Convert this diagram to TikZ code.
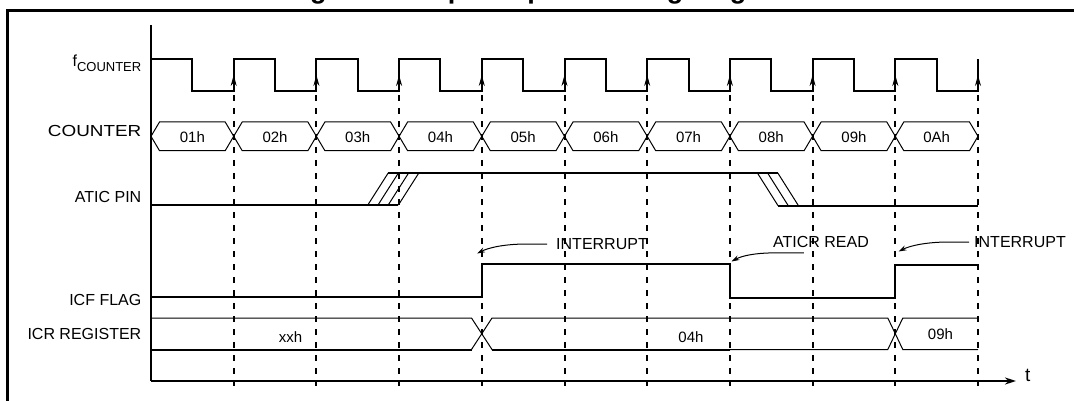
\documentclass[tikz,border=0pt]{standalone}
\usepackage{fontspec}
\setmainfont{Liberation Sans}
\usetikzlibrary{arrows.meta}

\begin{document}
\begin{tikzpicture}[
    x=1pt, y=-1pt,
    wave/.style={line width=2pt, line join=miter},
    thin_wave/.style={line width=1.1pt},
    bus/.style={line width=1pt},
    guide/.style={line width=2pt, dash pattern=on 6pt off 7pt},
    edge_arrow/.style={-{Stealth[length=11pt,width=6pt]}, line width=1pt},
    callout/.style={-{Stealth[length=8pt,width=5pt]}, line width=1pt},
    sig_label/.style={anchor=base east, inner sep=0pt, font=\fontsize{16}{19}\selectfont},
    bus_label/.style={inner sep=0pt, font=\fontsize{15}{18}\selectfont},
    note/.style={inner sep=0pt, font=\fontsize{16}{19}\selectfont}
]
    \useasboundingbox (0,0) rectangle (1074,401);
    \clip (0,0) rectangle (1074,401);
    \fill[white] (0,0) rectangle (1074,401);

    % Title (only its lower edge falls inside the page)
    \node[anchor=base, inner sep=0pt, font=\fontsize{27}{32}\selectfont\bfseries] (title) at (541,-1) {Figure 39. Input capture timing diagram};

    % Frame and axes
    \draw[line width=2.5pt] (7.6,401) -- (7.6,10.3) -- (1074,10.3);
    \draw[line width=2pt] (151,25) -- (151,381);
    \draw[line width=2pt, -{Stealth[length=11pt,width=7pt]}] (151,381) -- (1016,381);
    \node[anchor=base west, inner sep=0pt, font=\fontsize{19}{22}\selectfont] (t) at (1025,381.5) {t};

    % Guides from each rising edge
    \foreach \k in {1,...,10}
        \draw[guide] ({151+82.7*\k},95) -- ({151+82.7*\k},386);

    % fCOUNTER
    \node[sig_label] (fclk) at (141.5,67) {f\raisebox{-4.6pt}{\fontsize{13}{15}\selectfont COUNTER}};
    \draw[wave] (151,59) foreach \k in {0,...,9} {
        -- ({151+82.7*\k+41.35},59) -- ({151+82.7*\k+41.35},91)
        -- ({151+82.7*\k+82.7},91) -- ({151+82.7*\k+82.7},59)
    };
    \foreach \k in {1,...,10}
        \draw[edge_arrow] ({151+82.7*\k},91) -- ({151+82.7*\k},75);

    % COUNTER
    \node[sig_label] (cnt) at (141.5,137) {\scalebox{1.18}[1]{COUNTER}};
    \foreach \lbl [count=\k from 0] in {01h,02h,03h,04h,05h,06h,07h,08h,09h,0Ah} {
        \draw[bus] ({151+82.7*\k},136.3) -- ({151+82.7*\k+8.5},122) -- ({151+82.7*\k+74.2},122)
            -- ({151+82.7*\k+82.7},136.3) -- ({151+82.7*\k+74.2},150.7) -- ({151+82.7*\k+8.5},150.7) -- cycle;
        \node[bus_label] (c\k) at ({151+82.7*\k+41.35},137) {\lbl};
    }

    % ATIC PIN
    \node[sig_label] (atic) at (141.5,202) {ATIC PIN};
    \draw[thin_wave] (151,205) -- (398.4,205);
    \draw[wave] (388.4,173) -- (778.1,173);
    \draw[wave] (778.1,205.6) -- (978,205.6);
    \foreach \dx in {0,10.2,20.4,30.6}
        \draw[bus] ({367.8+\dx},205) -- ({388.2+\dx},173);
    \foreach \dx in {0,10.2,20.4}
        \draw[bus] ({757.4+\dx},173) -- ({778+\dx},205.6);

    % ICF FLAG
    \node[sig_label] (icf) at (141.5,305) {ICF FLAG};
    \draw[wave] (151,297) -- (481.8,297) -- (481.8,264) -- (729.9,264) -- (729.9,298)
        -- (895.3,298) -- (895.3,265) -- (978,265);

    % ICR REGISTER
    \node[sig_label] (icr) at (141.5,339) {ICR REGISTER};
    \draw[bus] (151,318) -- (471.5,318) -- (492,349.5) -- (887.8,349.5) -- (902.8,318) -- (978,318);
    \draw[bus] (151,349.5) -- (471.5,349.5) -- (492,318) -- (887.8,318) -- (902.8,349.5) -- (978,349.5);
    \draw[wave] (151,349.5) -- (471.5,349.5);
    \draw[wave] (492,349.5) -- (729.9,349.5);
    \node[bus_label] (r1) at (290.5,337) {xxh};
    \node[bus_label] (r2) at (691,337) {04h};
    \node[bus_label] (r3) at (940.5,334) {09h};

    % Event notes
    \node[note] (int_a) at (602,244) {INTERRUPT};
    \node[note] (rd) at (821,242) {ATICR READ};
    \node[note] (int_b) at (1020,242) {INTERRUPT};
    \coordinate (int_a_tip) at (477,253.5);
    \coordinate (rd_tip) at (731.5,261.5);
    \coordinate (int_b_tip) at (898.5,251.5);

    \draw[callout] ([xshift=-9pt]int_a.west) -- ++(-20,0) .. controls +(-22,0) and +(12,-6) .. (int_a_tip);
    \draw[callout] ([xshift=31pt,yshift=-5pt]rd.south west) -- ++(-28,0) .. controls +(-20,0) and +(11,-6) .. (rd_tip);
    \draw[callout] ([xshift=-5pt]int_b.west) -- ++(-20,0) .. controls +(-22,0) and +(12,-6) .. (int_b_tip);

\end{tikzpicture}
\end{document}
